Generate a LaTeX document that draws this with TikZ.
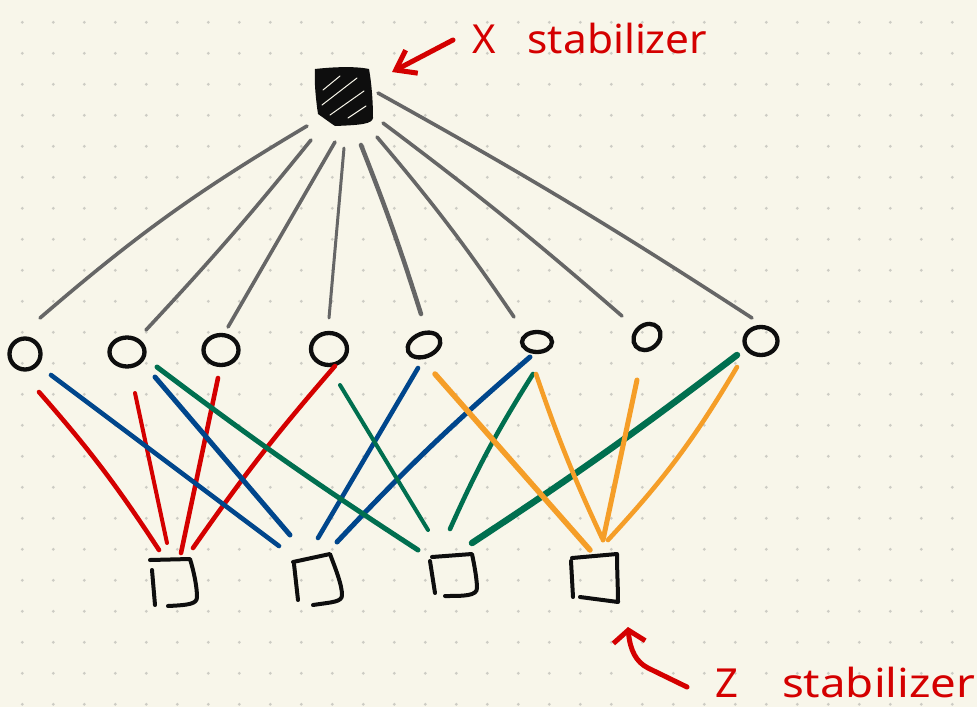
\documentclass[tikz,border=0pt]{standalone}
\usepackage{fontspec}
\setmainfont{Noto Sans}
\usetikzlibrary{calc,shapes.geometric,arrows.meta}
\definecolor{paper}{HTML}{F8F6EA}
\definecolor{dotgrey}{HTML}{CDCCC4}
\definecolor{ink}{HTML}{0E0E0E}
\definecolor{wire}{HTML}{666666}
\definecolor{pred}{HTML}{D40000}
\definecolor{pblue}{HTML}{00468C}
\definecolor{pgreen}{HTML}{006F4F}
\definecolor{porange}{HTML}{F59E28}

\begin{document}
\begin{tikzpicture}[x=1pt,y=-1pt,
  qubit/.style={ellipse, draw=ink, line width=4.3pt, inner sep=0pt},
  zstab/.style={inner sep=0pt, minimum width=48pt, minimum height=48pt},
  xstab/.style={inner sep=0pt, minimum width=58pt, minimum height=56pt},
  sqline/.style={draw=ink, line width=4pt, line cap=round, line join=round},
  xwire/.style={draw=wire, line width=3.6pt, line cap=round},
  zwire/.style={line width=4.6pt, line cap=round},
  rw/.style={zwire, draw=pred},
  bw/.style={zwire, draw=pblue},
  gw/.style={zwire, draw=pgreen},
  ow/.style={zwire, draw=porange},
  labeltext/.style={text=pred, font=\fontsize{40}{44}\selectfont, inner sep=0pt},
  redarrow/.style={draw=pred, line width=5pt, line cap=round, line join=round}
]
% paper and dot grid
\fill[paper] (0,0) rectangle (977,707);
\useasboundingbox (0,0) rectangle (977,707);
\foreach \i in {0,...,30}{
  \foreach \j in {0,...,22}{
    \fill[dotgrey] (22.3+31*\i, 22.3+31*\j) circle (1.6);
  }
}

% X stabilizer (filled square)
\node[xstab] (xs) at (343,96) {};
\begin{scope}[shift={(xs.center)}]
  \fill[ink] (-28,-27) .. controls (-10,-29) and (12,-30) .. (26,-27)
    .. controls (29,-10) and (30,8) .. (30,22)
    .. controls (29,28) and (18,29) .. (-8,30)
    .. controls (-14,26) and (-22,20) .. (-25,18)
    .. controls (-27,5) and (-29,-15) .. cycle;
  \draw[paper, line width=1pt, line cap=round]
    (-20,-6) .. controls (-12,-13) .. (-3,-20)
    (-21,9) .. controls (-4,-4) .. (14,-18)
    (-13,19) .. controls (4,7) .. (21,-5)
    (5,22) -- (23,10);
\end{scope}

% data qubits
\node[qubit, minimum width=31pt, minimum height=31pt] (q1) at (25,354) {};
\node[qubit, minimum width=35pt, minimum height=29pt] (q2) at (127,352) {};
\node[qubit, minimum width=35pt, minimum height=30pt] (q3) at (221,350) {};
\node[qubit, minimum width=36pt, minimum height=32pt] (q4) at (329,349) {};
\node[qubit, minimum width=34pt, minimum height=23pt, rotate=22] (q5) at (424,345) {};
\node[qubit, minimum width=30pt, minimum height=20pt] (q6) at (537,342) {};
\node[qubit, minimum width=29pt, minimum height=24pt, rotate=40] (q7) at (647,337) {};
\node[qubit, minimum width=33pt, minimum height=28pt] (q8) at (761,341) {};

% Z stabilizers (open hand-drawn squares)
\node[zstab] (z1) at (174,582) {};
\node[zstab] (z2) at (318,580) {};
\node[zstab] (z3) at (454,576) {};
\node[zstab] (z4) at (595,578) {};
\begin{scope}[shift={(z1.center)}]
  \draw[sqline] (-24,-22) -- (16,-23) .. controls (20,-10) and (23,5) .. (23,15)
    .. controls (23,22) and (15,23) .. (-6,24);
  \draw[sqline] (-22,-12) -- (-19,23);
\end{scope}
\begin{scope}[shift={(z2.center)}]
  \draw[sqline] (-25,-18) -- (12,-26) .. controls (18,-10) and (24,5) .. (24,15)
    .. controls (24,22) and (15,22) .. (-5,25);
  \draw[sqline] (-24,-16) -- (-20,20);
\end{scope}
\begin{scope}[shift={(z3.center)}]
  \draw[sqline] (-22,-19) -- (18,-22) .. controls (21,-8) and (23,5) .. (23,12)
    .. controls (23,20) and (10,20) .. (-9,20);
  \draw[sqline] (-24,-15) -- (-19,17);
\end{scope}
\begin{scope}[shift={(z4.center)}]
  \draw[sqline] (-23,-20) -- (22,-24) .. controls (22,-8) and (23,10) .. (23,24)
    -- (-15,19);
  \draw[sqline] (-24,-17) -- (-22,19);
\end{scope}

% X-stabilizer support
\draw[xwire] ($(xs)+(-36,30)$) to[bend right=5] ($(q1)+(15,-36)$);
\draw[xwire] ($(xs)+(-32,44)$) to[bend left=2] ($(q2)+(19,-22)$);
\draw[xwire] ($(xs)+(-8,46)$) -- ($(q3)+(7,-23)$);
\draw[xwire, line width=3pt] ($(xs)+(1,52)$) -- ($(q4)+(0,-31)$);
\draw[xwire, line width=4.5pt] ($(xs)+(18,49)$) to[bend left=2] ($(q5)+(-3,-31)$);
\draw[xwire] ($(xs)+(34,41)$) to[bend left=3] ($(q6)+(-23,-25)$);
\draw[xwire] ($(xs)+(40,27)$) to[bend left=2] ($(q7)+(-25,-21)$);
\draw[xwire] ($(xs)+(35,-3)$) to[bend left=2] ($(q8)+(-9,-23)$);

% Z-stabilizer supports
\draw[rw] ($(q1)+(14,38)$) to[bend left=4] ($(z1)+(-15,-32)$);
\draw[rw, line width=4pt] ($(q2)+(8,41)$) -- ($(z1)+(-7,-39)$);
\draw[rw] ($(q3)+(-3,28)$) -- ($(z1)+(7,-29)$);
\draw[rw] ($(q4)+(6,17)$) to[bend right=3] ($(z1)+(19,-34)$);

\draw[bw] ($(q1)+(26,21)$) -- ($(z2)+(-39,-34)$);
\draw[bw, line width=5pt] ($(q2)+(28,25)$) -- ($(z2)+(-28,-45)$);
\draw[bw] ($(q5)+(-6,23)$) -- ($(z2)+(0,-42)$);
\draw[bw, line width=5pt] ($(q6)+(-7,15)$) to[bend right=3] ($(z2)+(19,-38)$);

\draw[gw, line width=5pt] ($(q2)+(30,15)$) to[bend right=2] ($(z3)+(-36,-26)$);
\draw[gw, line width=4pt] ($(q4)+(11,36)$) -- ($(z3)+(-26,-46)$);
\draw[gw] ($(q6)+(-4,32)$) to[bend right=4] ($(z3)+(-4,-47)$);
\draw[gw, line width=6.5pt] ($(q8)+(-24,14)$) to[bend left=2] ($(z3)+(18,-33)$);

\draw[ow, line width=5.5pt] ($(q5)+(11,29)$) -- ($(z4)+(-5,-28)$);
\draw[ow] ($(q6)+(-1,32)$) to[bend right=3] ($(z4)+(7,-40)$);
\draw[ow, line width=5pt] ($(q7)+(-10,43)$) -- ($(z4)+(8,-38)$);
\draw[ow] ($(q8)+(-24,26)$) to[bend left=6] ($(z4)+(13,-38)$);

% annotations
\coordinate (xtail) at (453,40);
\coordinate (ztail) at (687,687);
\draw[redarrow, -{Straight Barb[length=18pt, width=26pt]}] (xtail) -- ($(xs)+(49,-24)$);
\draw[redarrow, -{Straight Barb[length=12pt, width=32pt]}] (ztail) -- (648,668)
  .. controls (636,662) and (630,650) .. ($(z4)+(33,49)$);
\node[labeltext, anchor=base west] (xlabel) at (472,53)
  {X\hspace{32pt}\scalebox{1.06}[1]{stabilizer}};
\node[labeltext, anchor=base west] (zlabel) at (715,697)
  {Z\hspace{44pt}\scalebox{1.14}[1]{stabilizer}};
\end{tikzpicture}
\end{document}
